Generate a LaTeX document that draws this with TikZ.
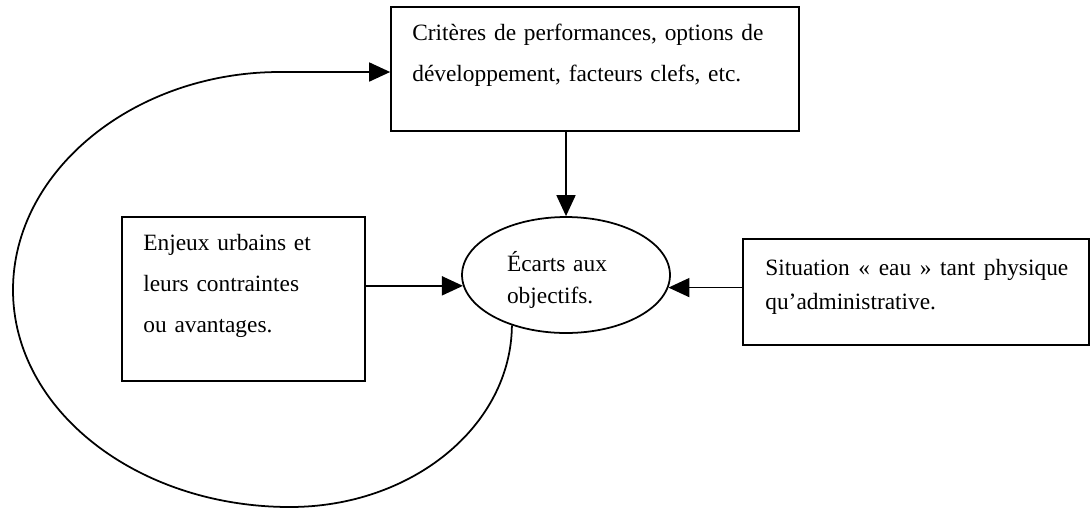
\documentclass[tikz,border=0pt]{standalone}
\usepackage{fontspec}
\setmainfont{Liberation Serif}
\usetikzlibrary{shapes.geometric}
\usetikzlibrary{arrows.meta}

\begin{document}
\begin{tikzpicture}[x=0.02cm,y=-0.02cm,
	box/.style={draw,line width=1pt,inner sep=0pt},
	txt/.style={inner sep=0pt,anchor=base west},
	fleche/.style={line width=1pt,-{Triangle[length=0.42cm,width=0.38cm]}}]
	\useasboundingbox (0,0) rectangle (1091,508);

	\node[box,minimum width=8.16cm,minimum height=2.48cm](crit) at (595,69) {};
	\node[txt,text width=7.6cm,align=left,font=\fontsize{13.3}{23.8}\selectfont](critt) at (412,40) {Critères de performances, options de\\développement, facteurs clefs, etc.};

	\node[ellipse,draw,line width=1pt,minimum width=4.16cm,minimum height=2.32cm,inner sep=0pt,text width=2.36cm,text height=0.6cm,align=left,font=\fontsize{13.3}{18.7}\selectfont](ecarts) at (566,275) {Écarts aux\\objectifs.};

	\node[box,minimum width=4.86cm,minimum height=3.28cm](enjeux) at (243.5,299) {};
	\node[txt,text width=4.4cm,align=left,font=\fontsize{13.3}{23.5}\selectfont](enjeuxt) at (143,250) {Enjeux urbains et\\leurs contraintes\\ou avantages.};

	\node[box,minimum width=6.92cm,minimum height=2.12cm](eau) at (916,292) {};
	\node[txt,text width=6.06cm,align=justify,font=\fontsize{13.3}{19.8}\selectfont](eaut) at (765,275) {Situation « eau » tant physique \mbox{qu’administrative.}};

	\coordinate (boucle) at (280,72);

	\draw[fleche] (crit.south -| ecarts.north) -- (ecarts.north);
	\draw[fleche] (enjeux.east |- ecarts.186.7) -- (ecarts.186.7);
	\draw[fleche] (eau.west |- ecarts.353.3) -- (ecarts.353.3);
	\draw[fleche] (ecarts.223) .. controls (511,426) and (412,507) .. (290,507) .. controls (137,507) and (13,410) .. (13,290) .. controls (13,170) and (135,72) .. (boucle) -- (crit.west |- boucle);
\end{tikzpicture}
\end{document}
